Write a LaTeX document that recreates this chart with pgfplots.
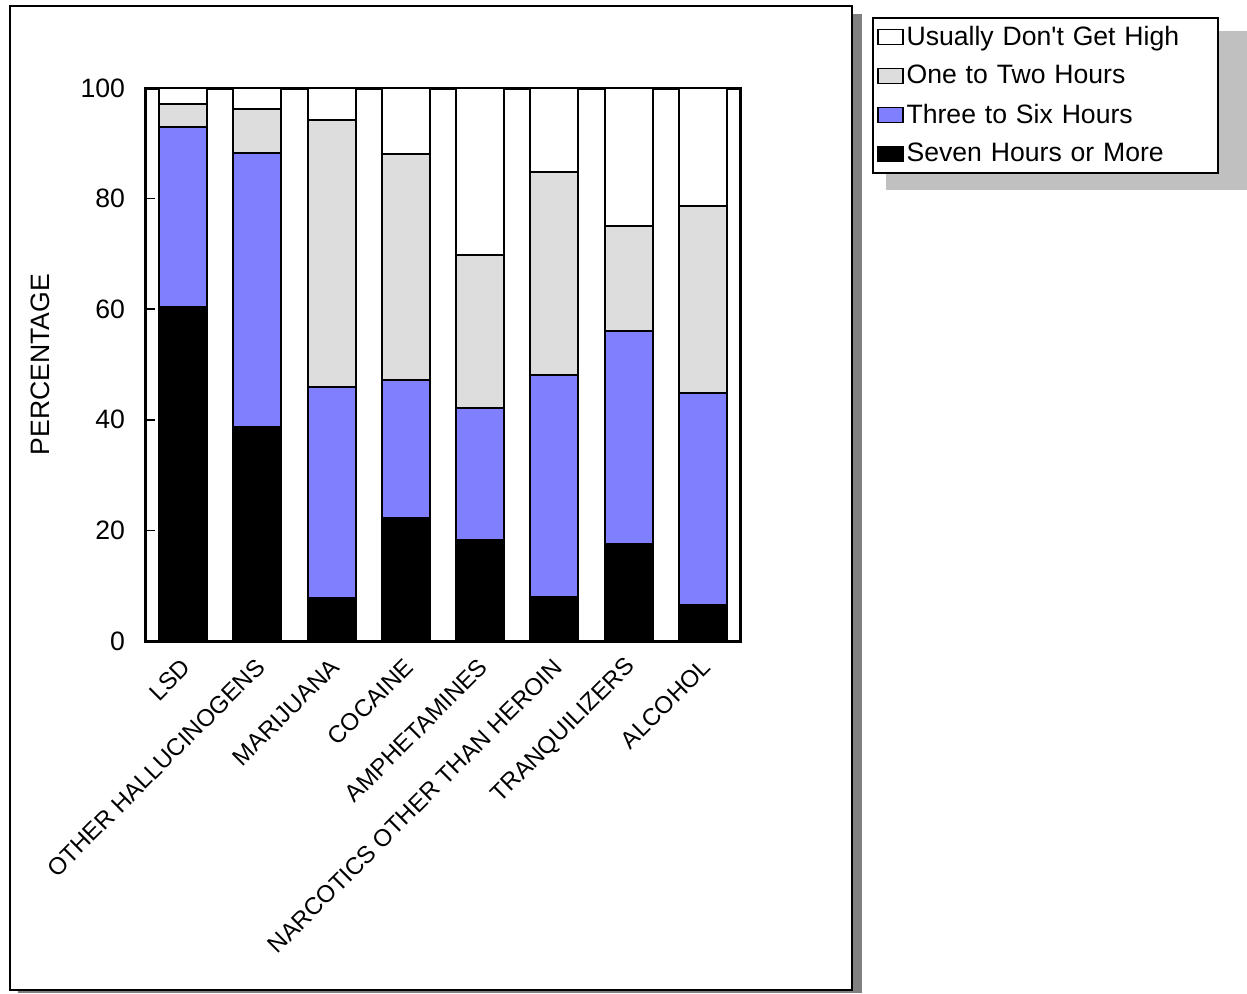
\documentclass[border=0pt]{standalone}
\usepackage{pgfplots}
\pgfplotsset{compat=1.18}
\usepackage{fontspec}
\setmainfont{Liberation Sans}
\definecolor{myblue}{HTML}{8080FF}
\definecolor{mygray}{HTML}{DDDDDD}
\definecolor{shadowgray}{HTML}{C0C0C0}
\pgfplotstableread{
x black blue gray white
0 60.4 32.5 4.2 2.9
1 38.7 49.5 8.0 3.8
2 7.8 38.1 48.3 5.8
3 22.2 25.0 40.9 11.9
4 18.3 23.8 27.7 30.2
5 8.0 40.1 36.7 15.2
6 17.5 38.6 18.9 25.0
7 6.5 38.3 33.9 21.3
}\datatable
\begin{document}
\begin{tikzpicture}[font=\fontsize{13.3}{16}\selectfont]
\useasboundingbox (0pt,0pt) rectangle (623.5pt,-496.5pt);
% outer frame shadow and frame
\fill[gray] (9pt,-7pt) rectangle (431pt,-496.5pt);
\draw[line width=1pt, fill=white] (5pt,-3pt) rectangle (426pt,-495pt);
% legend shadow
\fill[shadowgray] (443pt,-15.5pt) rectangle (623.5pt,-95pt);
\begin{axis}[
  at={(73pt,-320.5pt)}, anchor=south west,
  scale only axis, width=297pt, height=276.5pt,
  ybar stacked, bar width=24pt,
  xmin=-0.5, xmax=7.5, ymin=0, ymax=100,
  xtick=data,
  xticklabels={LSD, OTHER HALLUCINOGENS, MARIJUANA, COCAINE, AMPHETAMINES, NARCOTICS OTHER THAN HEROIN, TRANQUILIZERS, ALCOHOL},
  xticklabel style={rotate=45, anchor=east, inner sep=0pt, yshift=-9pt, xshift=-6.5pt, font=\fontsize{12}{14}\selectfont},
  x tick style={draw=none},
  ytick={0,20,40,60,80,100},
  ytick pos=left,
  y tick style={black, line width=0.8pt},
  tick align=inside, major tick length=4.5pt,
  yticklabel style={xshift=-7pt},
  /pgf/number format/assume math mode=true,
  axis line style={line width=1.5pt},
  ylabel={PERCENTAGE},
  ylabel style={at={(axis description cs:-0.1785,0.5)}, anchor=center, rotate=0},
  legend style={at={(axis description cs:1.2222,1.1284)}, anchor=north west,
    draw=black, line width=1pt, fill=white, legend cell align=left,
    row sep=5.5pt, inner xsep=2pt, inner ysep=2.5pt,
    nodes={inner sep=1.5pt, text width=152pt, align=left, font=\fontsize{13.3}{16}\selectfont}},
  reverse legend,
  legend image code/.code={\draw[#1, line width=0.8pt] (0pt,-3.75pt) rectangle (12.5pt,3.75pt);},
  every axis plot/.append style={draw=black, line width=0.9pt},
  clip=false,
]
\addplot[fill=black] table[x=x, y=black] {\datatable};
\addplot[fill=myblue] table[x=x, y=blue] {\datatable};
\addplot[fill=mygray] table[x=x, y=gray] {\datatable};
\addplot[fill=white] table[x=x, y=white] {\datatable};
\legend{Seven Hours or More, Three to Six Hours, One to Two Hours, Usually Don\textquotesingle t Get High}
\end{axis}
\end{tikzpicture}
\end{document}
